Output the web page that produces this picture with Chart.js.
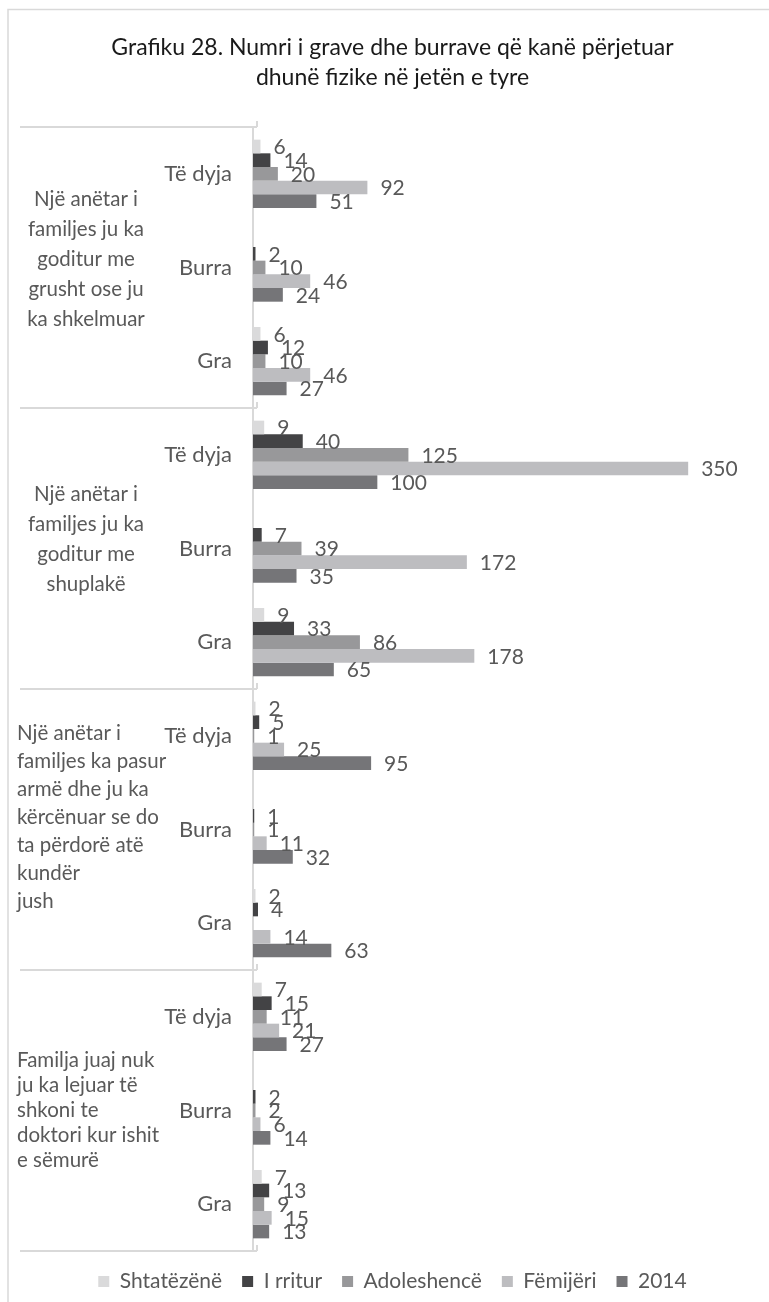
<!DOCTYPE html>
<html>
<head>
<meta charset="utf-8">
<script src="https://cdn.jsdelivr.net/npm/chart.js@4.4.1/dist/chart.umd.min.js"></script>
<style>
  html, body { margin: 0; padding: 0; background: #ffffff; }
  #wrap { width: 769px; height: 1302px; position: relative; }
  canvas { display: block; }
</style>
</head>
<body>
<div id="wrap"><canvas id="c" width="769" height="1302"></canvas></div>
<script>
// ---------- DATA ----------
const titleLines = [
  'Grafiku 28. Numri i grave dhe burrave që kanë përjetuar',
  'dhunë fizike në jetën e tyre'
];
const groupLabels = [
  ['Një anëtar i', 'familjes ju ka', 'goditur me', 'grusht ose ju', 'ka shkelmuar'],
  ['Një anëtar i', 'familjes ju ka', 'goditur me', 'shuplakë'],
  ['Një anëtar i', 'familjes ka pasur', 'armë dhe ju ka', 'kërcënuar se do', 'ta përdorë atë', 'kundër', 'jush'],
  ['Familja juaj nuk', 'ju ka lejuar të', 'shkoni te', 'doktori kur ishit', 'e sëmurë']
];
const subCategories = ['Të dyja', 'Burra', 'Gra'];
const categories = [
  'Të dyja', 'Burra', 'Gra',
  'Të dyja', 'Burra', 'Gra',
  'Të dyja', 'Burra', 'Gra',
  'Të dyja', 'Burra', 'Gra'
];
const seriesNames = ['Shtatëzënë', 'I rritur', 'Adoleshencë', 'Fëmijëri', '2014'];
const shtatezene  = [6, null, 6,    9, null, 9,     2, null, 2,    7, null, 7];
const iRritur     = [14, 2, 12,     40, 7, 33,      5, 1, 4,       15, 2, 13];
const adoleshence = [20, 10, 10,    125, 39, 86,    1, 1, null,    11, 2, 9];
const femijeri    = [92, 46, 46,    350, 172, 178,  25, 11, 14,    21, 6, 15];
const viti2014    = [51, 24, 27,    100, 35, 65,    95, 32, 63,    27, 14, 13];
const xMax = 415;

// ---------- STYLE ----------
const FONT = 'Lato, "Open Sans", sans-serif';
const TEXT = '#595959';
const seriesColors = ['#dadadb', '#434345', '#98989a', '#bdbdc0', '#757578'];
const groupAlign = ['center', 'center', 'left', 'left'];
const groupLineH = [30, 30, 28, 25];
const groupOffset = [-8, -9, -12, 0];
const PAD_LEFT = 16;
const AXIS_LEFT = 253;

const seriesValues = [shtatezene, iRritur, adoleshence, femijeri, viti2014];

const frame = {
  id: 'frame',
  beforeDraw(chart) {
    const ctx = chart.ctx;
    ctx.save();
    ctx.fillStyle = '#ffffff';
    ctx.fillRect(0, 0, chart.width, chart.height);
    ctx.strokeStyle = '#d9d9d9';
    ctx.lineWidth = 1.5;
    ctx.strokeRect(8, 9.5, chart.width + 20, chart.height + 20);
    ctx.restore();
  },
  afterDraw(chart) {
    const ctx = chart.ctx;
    const ys = chart.scales.y;
    const area = chart.chartArea;
    const per = subCategories.length;
    ctx.save();
    ctx.strokeStyle = '#d9d9d9';
    ctx.lineWidth = 2;
    const bounds = [];
    for (let g = 0; g <= groupLabels.length; g++) {
      let y;
      if (g === 0) y = area.top;
      else if (g === groupLabels.length) y = area.bottom;
      else y = (ys.getPixelForTick(g * per - 1) + ys.getPixelForTick(g * per)) / 2;
      bounds.push(y);
      ctx.beginPath();
      ctx.moveTo(20, y);
      ctx.lineTo(area.left + 4, y);
      ctx.stroke();
      ctx.beginPath();
      ctx.moveTo(area.left + 4, y);
      ctx.lineTo(area.left + 4, y - 6);
      ctx.stroke();
    }
    ctx.fillStyle = TEXT;
    ctx.font = '20.5px ' + FONT;
    ctx.textBaseline = 'middle';
    groupLabels.forEach((lines, g) => {
      const mid = (bounds[g] + bounds[g + 1]) / 2 + groupOffset[g];
      const lh = groupLineH[g];
      const y0 = mid - (lines.length - 1) * lh / 2;
      lines.forEach((t, i) => {
        if (groupAlign[g] === 'center') {
          ctx.textAlign = 'center';
          ctx.fillText(t, 86, y0 + i * lh);
        } else {
          ctx.textAlign = 'left';
          ctx.fillText(t, 17, y0 + i * lh);
        }
      });
    });
    ctx.restore();
  },
  afterDatasetsDraw(chart) {
    const ctx = chart.ctx;
    ctx.save();
    ctx.fillStyle = TEXT;
    ctx.font = '21px ' + FONT;
    ctx.textAlign = 'left';
    ctx.textBaseline = 'middle';
    chart.data.datasets.forEach((ds, di) => {
      const meta = chart.getDatasetMeta(di);
      meta.data.forEach((el, i) => {
        const v = ds.data[i];
        if (v === null || v === undefined) return;
        ctx.fillText(String(v), el.x + 13, el.y + 1);
      });
    });
    ctx.restore();
  }
};

new Chart(document.getElementById('c'), {
  type: 'bar',
  data: {
    labels: categories,
    datasets: seriesNames.map((n, i) => ({
      label: n,
      data: seriesValues[i],
      backgroundColor: seriesColors[i],
      borderWidth: 0,
      categoryPercentage: 0.73,
      barPercentage: 1.0
    }))
  },
  options: {
    indexAxis: 'y',
    responsive: false,
    animation: false,
    devicePixelRatio: 1,
    layout: { padding: { left: PAD_LEFT, right: 0, top: 0, bottom: 0 } },
    scales: {
      x: { display: false, min: 0, max: xMax },
      y: {
        grid: { display: false, drawTicks: false },
        border: { display: true, color: '#d9d9d9', width: 2 },
        ticks: { color: TEXT, font: { family: FONT, size: 22 }, padding: 21 },
        afterFit(scale) { scale.width = AXIS_LEFT - PAD_LEFT; }
      }
    },
    plugins: {
      title: {
        display: true,
        text: titleLines,
        color: '#1a1a1a',
        font: { family: FONT, size: 23, weight: 'normal', lineHeight: 1.3 },
        padding: { top: 33, bottom: 34.2 }
      },
      legend: {
        display: true,
        position: 'bottom',
        maxHeight: 57,
        labels: {
          color: TEXT,
          font: { family: FONT, size: 21 },
          boxWidth: 11,
          boxHeight: 11,
          padding: 20
        }
      },
      tooltip: { enabled: false }
    }
  },
  plugins: [frame]
});
</script>
</body>
</html>
